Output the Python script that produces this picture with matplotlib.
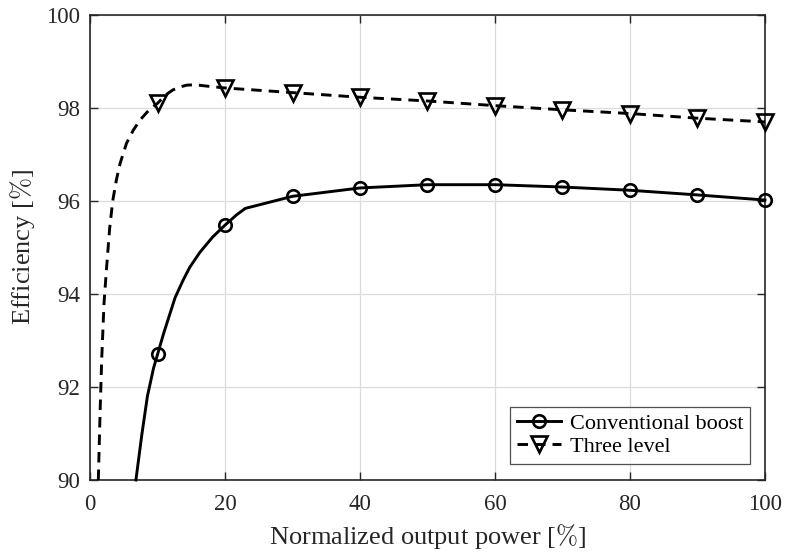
import matplotlib
matplotlib.use("Agg")
import matplotlib.pyplot as plt
from matplotlib.lines import Line2D

# conventional boost curve
conv_x = [6.8, 7.65, 8.5, 9.4, 10, 10.9, 12.6, 13.8, 14.8, 16.3, 18.2, 20, 21.7, 23,
          30, 40, 50, 60, 70, 80, 90, 100]
conv_y = [90.0, 90.95, 91.8, 92.4, 92.7, 93.15, 93.92, 94.3, 94.58, 94.9, 95.23, 95.48, 95.7, 95.84,
          96.1, 96.28, 96.35, 96.35, 96.3, 96.23, 96.13, 96.02]

# three level curve
tl_x = [1.23, 1.48, 1.73, 2.07, 2.47, 2.9, 3.36, 3.9, 4.44, 5.4, 6.4, 7.4, 8.7, 10,
        11.2, 12.3, 13.3, 14.3, 15.5, 17.3, 20, 30, 40, 50, 60, 70, 80, 90, 100]
tl_y = [90.0, 91.4, 92.6, 93.8, 94.6, 95.4, 96.0, 96.45, 96.8, 97.24, 97.52, 97.74, 97.95, 98.1,
        98.28, 98.39, 98.45, 98.49, 98.5, 98.47, 98.43, 98.33, 98.23, 98.15, 98.05, 97.96, 97.88, 97.78, 97.7]

marker_x = [10, 20, 30, 40, 50, 60, 70, 80, 90, 100]

plt.rcParams['font.family'] = ['Liberation Serif', 'DejaVu Serif']
plt.rcParams['mathtext.fontset'] = 'cm'

fig = plt.figure(figsize=(7.87, 5.54), dpi=100)
ax = fig.add_axes([0.1144, 0.1336, 0.8576, 0.8394])

conv_idx = [conv_x.index(m) for m in marker_x]
tl_idx = [tl_x.index(m) for m in marker_x]
dash = (0, (3.6, 2.4))
lw = 2.1

ax.plot(conv_x, conv_y, color='k', lw=lw, marker='o', markevery=conv_idx,
        markersize=9, markerfacecolor='none', markeredgewidth=1.9, clip_on=False, zorder=3)
ax.plot(tl_x, tl_y, color='k', lw=lw, ls=dash, marker='v', markevery=tl_idx,
        markersize=11, markerfacecolor='none', markeredgewidth=1.9, clip_on=False, zorder=3)

ax.set_xlim(0, 100)
ax.set_ylim(90, 100)
ax.set_xticks([0, 20, 40, 60, 80, 100])
ax.set_yticks([90, 92, 94, 96, 98, 100])
ax.grid(True, color='#dcdcdc', lw=0.9)
ax.set_axisbelow(True)
ax.tick_params(direction='in', top=True, right=True, labelsize=16.5, length=6, width=1,
               colors='#262626')
ax.tick_params(axis='x', pad=10)
ax.tick_params(axis='y', pad=7)
for s in ax.spines.values():
    s.set_linewidth(1.2)
    s.set_color('#262626')

ax.set_xlabel(r'Normalized output power [$\%$]', fontsize=19, color='#262626', labelpad=5)
ax.set_ylabel(r'Efficiency [$\%$]', fontsize=19, color='#262626', labelpad=7)

handles = [
    Line2D([], [], color='k', lw=lw, marker='o', markersize=9, markerfacecolor='none', markeredgewidth=1.9),
    Line2D([], [], color='k', lw=lw, ls=dash, marker='v', markersize=11, markerfacecolor='none', markeredgewidth=1.9),
]
leg = ax.legend(handles, ['Conventional boost', 'Three level'], loc='lower right',
                bbox_to_anchor=(0.978, 0.035), fontsize=16, frameon=True, fancybox=False,
                edgecolor='#262626', handlelength=2.0, handletextpad=0.4, borderpad=0.3,
                labelspacing=0.1, borderaxespad=0)
leg.get_frame().set_linewidth(0.9)

fig.savefig('out.png', dpi=100)
